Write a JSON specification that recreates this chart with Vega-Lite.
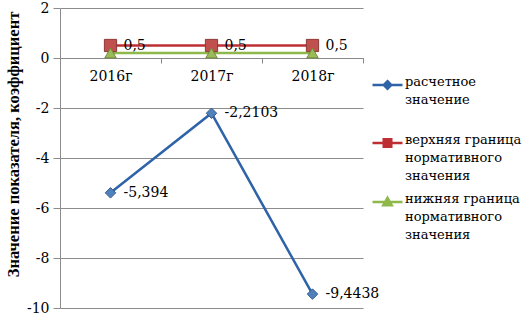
{
  "$schema": "https://vega.github.io/schema/vega-lite/v6.json",
  "autosize": {"type": "none"},
  "width": 303,
  "height": 300,
  "padding": {"left": 60, "top": 8, "right": 163, "bottom": 10},
  "background": "white",
  "config": {
    "font": "DejaVu Serif",
    "view": {"stroke": null},
    "axis": {"labelFont": "DejaVu Serif", "titleFont": "Liberation Serif", "labelColor": "black", "titleColor": "black"}
  },
  "data": {
    "values": [
      {"year": "2016г", "series": "расчетное значение", "value": -5.394, "label": "-5,394"},
      {"year": "2017г", "series": "расчетное значение", "value": -2.2103, "label": "-2,2103"},
      {"year": "2018г", "series": "расчетное значение", "value": -9.4438, "label": "-9,4438"},
      {"year": "2016г", "series": "верхняя граница нормативного значения", "value": 0.5, "label": "0,5"},
      {"year": "2017г", "series": "верхняя граница нормативного значения", "value": 0.5, "label": "0,5"},
      {"year": "2018г", "series": "верхняя граница нормативного значения", "value": 0.5, "label": "0,5"},
      {"year": "2016г", "series": "нижняя граница нормативного значения", "value": 0.2, "label": null},
      {"year": "2017г", "series": "нижняя граница нормативного значения", "value": 0.2, "label": null},
      {"year": "2018г", "series": "нижняя граница нормативного значения", "value": 0.2, "label": null}
    ]
  },
  "encoding": {
    "x": {
      "field": "year", "type": "nominal",
      "scale": {"type": "band", "paddingInner": 0, "paddingOuter": 0},
      "axis": {
        "title": null, "labelAngle": 0, "offset": -250, "tickBand": "extent",
        "domainColor": "#888", "tickColor": "#888", "tickSize": 5, "labelPadding": 6,
        "labelFontSize": 14, "grid": false
      }
    },
    "y": {
      "field": "value", "type": "quantitative",
      "scale": {"domain": [-10, 2], "nice": false},
      "axis": {
        "title": "Значение показателя, коэффициент", "titleFontWeight": "bold", "titleFontSize": 16.5,
        "values": [-10, -8, -6, -4, -2, 0, 2], "labelFontSize": 14, "gridColor": "#8c8c8c",
        "labelExpr": "replace(datum.label, '−', '-')", "titleY": 136,
        "domainColor": "#8c8c8c", "tickColor": "#8c8c8c", "tickSize": 7, "labelPadding": 4, "titlePadding": 5
      }
    }
  },
  "layer": [
    {
      "mark": {"type": "line", "strokeWidth": 2.5},
      "encoding": {
        "color": {
          "field": "series", "type": "nominal",
          "scale": {
            "domain": ["расчетное значение", "верхняя граница нормативного значения", "нижняя граница нормативного значения"],
            "range": ["#2f63a8", "#be2f33", "#8fb84a"]
          },
          "legend": {
            "title": null, "orient": "none", "legendX": 311, "legendY": 68,
            "symbolSize": 900, "symbolStrokeWidth": 2.5, "labelFontSize": 13, "labelFont": "DejaVu Serif",
            "labelLimit": 200, "rowPadding": 9, "labelOffset": 1,
            "labelExpr": "datum.label == 'расчетное значение' ? ['расчетное', 'значение', ''] : datum.label == 'верхняя граница нормативного значения' ? ['верхняя граница', 'нормативного', 'значения'] : ['нижняя граница', 'нормативного', 'значения']",
            "encode": {
              "symbols": {"update": {
                "shape": {"signal": "datum.value == 'расчетное значение' ? 'M-1,0H1M0,-0.25L0.25,0L0,0.25L-0.25,0Z' : datum.value == 'верхняя граница нормативного значения' ? 'M-1,0H1M-0.25,-0.25H0.25V0.25H-0.25Z' : 'M-1,0H1M0,-0.28L0.28,0.22H-0.28Z'"},
                "fill": {"signal": "scale('color', datum.value)"},
                "stroke": {"signal": "scale('color', datum.value)"},
                "strokeWidth": {"value": 2.5},
                "opacity": {"value": 1},
                "size": {"value": 900},
                "y": {"value": 9}
              }},
              "labels": {"update": {"baseline": {"value": "top"}, "lineHeight": {"value": 18}, "y": {"value": 0}}}
            }
          }
        }
      }
    },
    {
      "transform": [{"filter": "datum.series == 'расчетное значение'"}],
      "mark": {"type": "point", "filled": true, "opacity": 1, "strokeWidth": 1, "shape": "diamond", "size": 110, "fill": "#4f81bd", "stroke": "#385d8a"}
    },
    {
      "transform": [{"filter": "datum.series == 'верхняя граница нормативного значения'"}],
      "mark": {"type": "point", "filled": true, "opacity": 1, "strokeWidth": 1, "shape": "square", "size": 150, "fill": "#c0504d", "stroke": "#8c3836"}
    },
    {
      "transform": [{"filter": "datum.series == 'нижняя граница нормативного значения'"}],
      "mark": {"type": "point", "filled": true, "opacity": 1, "strokeWidth": 1, "shape": "triangle-up", "size": 130, "fill": "#9bbb59", "stroke": "#71893f"}
    },
    {
      "transform": [{"filter": "datum.label != null"}],
      "mark": {"type": "text", "align": "left", "baseline": "middle", "dx": 13, "fontSize": 14, "font": "DejaVu Serif", "color": "black"},
      "encoding": {"text": {"field": "label"}}
    }
  ]
}
